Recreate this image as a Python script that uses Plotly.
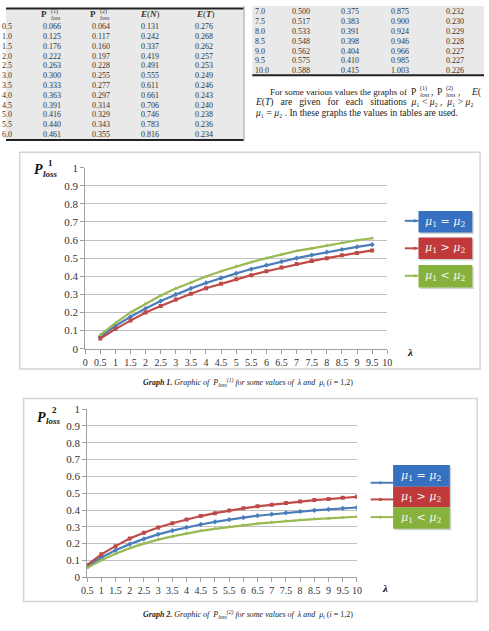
import plotly.graph_objects as go

W, H = 489, 631
def X(px): return px / W
def Y(py): return 1 - py / H

# ---------------- data ----------------
lam_g1 = [0.5, 1, 1.5, 2, 2.5, 3, 3.5, 4, 4.5, 5, 5.5, 6, 6.5, 7, 7.5, 8, 8.5, 9, 9.5]
g1_equal   = [0.066, 0.125, 0.176, 0.222, 0.263, 0.300, 0.333, 0.363, 0.391, 0.416, 0.440, 0.461, 0.481, 0.500, 0.517, 0.533, 0.548, 0.562, 0.575]
g1_greater = [0.056, 0.108, 0.155, 0.200, 0.236, 0.271, 0.303, 0.334, 0.359, 0.383, 0.406, 0.428, 0.448, 0.468, 0.484, 0.500, 0.516, 0.529, 0.543]
g1_less    = [0.076, 0.141, 0.200, 0.249, 0.294, 0.332, 0.366, 0.399, 0.428, 0.455, 0.478, 0.500, 0.520, 0.540, 0.554, 0.570, 0.585, 0.599, 0.610]
g1_ticks = [0, 0.5, 1, 1.5, 2, 2.5, 3, 3.5, 4, 4.5, 5, 5.5, 6, 6.5, 7, 7.5, 8, 8.5, 9, 9.5, 10]

lam_g2 = [0.5, 1, 1.5, 2, 2.5, 3, 3.5, 4, 4.5, 5, 5.5, 6, 6.5, 7, 7.5, 8, 8.5, 9, 9.5, 10]
g2_equal   = [0.064, 0.117, 0.160, 0.197, 0.228, 0.255, 0.277, 0.297, 0.314, 0.329, 0.343, 0.355, 0.366, 0.375, 0.383, 0.391, 0.398, 0.404, 0.410, 0.415]
g2_greater = [0.072, 0.136, 0.185, 0.230, 0.265, 0.296, 0.321, 0.344, 0.364, 0.381, 0.397, 0.410, 0.422, 0.432, 0.442, 0.451, 0.459, 0.465, 0.473, 0.479]
g2_less    = [0.056, 0.101, 0.140, 0.173, 0.200, 0.224, 0.243, 0.261, 0.276, 0.288, 0.300, 0.309, 0.319, 0.327, 0.335, 0.340, 0.346, 0.350, 0.356, 0.360]
g2_ticks = lam_g2

y_ticks = [0, 0.1, 0.2, 0.3, 0.4, 0.5, 0.6, 0.7, 0.8, 0.9, 1]

# tables
tabL_lam = ["0.5", "1.0", "1.5", "2.0", "2.5", "3.0", "3.5", "4.0", "4.5", "5.0", "5.5", "6.0"]
tabL_p1 = ["0.066", "0.125", "0.176", "0.222", "0.263", "0.300", "0.333", "0.363", "0.391", "0.416", "0.440", "0.461"]
tabL_p2 = ["0.064", "0.117", "0.160", "0.197", "0.228", "0.255", "0.277", "0.297", "0.314", "0.329", "0.343", "0.355"]
tabL_en = ["0.131", "0.242", "0.337", "0.419", "0.491", "0.555", "0.611", "0.661", "0.706", "0.746", "0.783", "0.816"]
tabL_et = ["0.276", "0.268", "0.262", "0.257", "0.253", "0.249", "0.246", "0.243", "0.240", "0.238", "0.236", "0.234"]

tabR_lam = ["7.0", "7.5", "8.0", "8.5", "9.0", "9.5", "10.0"]
tabR_p1 = ["0.500", "0.517", "0.533", "0.548", "0.562", "0.575", "0.588"]
tabR_p2 = ["0.375", "0.383", "0.391", "0.398", "0.404", "0.410", "0.415"]
tabR_en = ["0.875", "0.900", "0.924", "0.946", "0.966", "0.985", "1.003"]
tabR_et = ["0.232", "0.230", "0.229", "0.228", "0.227", "0.227", "0.226"]

series_names = ["μ1 = μ2", "μ1 > μ2", "μ1 < μ2"]
legend_labels = ["<i>μ</i><sub>1</sub> = <i>μ</i><sub>2</sub>",
                 "<i>μ</i><sub>1</sub> > <i>μ</i><sub>2</sub>",
                 "<i>μ</i><sub>1</sub> < <i>μ</i><sub>2</sub>"]

line_colors = ["#4a7ebb", "#be4b48", "#98b954"]
box_colors = ["#3571c0", "#c0393b", "#86b23c"]
markers = ["diamond", "square", "triangle-up"]

SERIF = "Liberation Serif"

fig = go.Figure()

for ys, name, col, mk in zip([g1_equal, g1_greater, g1_less], series_names, line_colors, markers):
    fig.add_trace(go.Scatter(x=lam_g1, y=ys, name=name, mode="lines+markers",
                             line=dict(color=col, width=2.2), marker=dict(symbol=mk, size=4, color=col),
                             xaxis="x", yaxis="y", showlegend=False))
for ys, name, col, mk in zip([g2_equal, g2_greater, g2_less], series_names, line_colors, markers):
    fig.add_trace(go.Scatter(x=lam_g2, y=ys, name=name, mode="lines+markers",
                             line=dict(color=col, width=2.2), marker=dict(symbol=mk, size=4, color=col),
                             xaxis="x2", yaxis="y2", showlegend=False))

def fmt(v):
    return ("%g" % v)

axis_common = dict(showline=True, linecolor="#a0a0a0", linewidth=1, ticks="outside", ticklen=4,
                   tickcolor="#a0a0a0", zeroline=False)
xfont = dict(family=SERIF, size=10, color="#333333")
yfont = dict(family=SERIF, size=11, color="#333333")

shapes = []
ann = []

# ---- tables ----
shapes.append(dict(type="rect", xref="paper", yref="paper", x0=X(0), x1=X(243), y0=Y(136), y1=Y(2),
                   fillcolor="#e9e9e9", line=dict(width=0), layer="below"))
shapes.append(dict(type="line", xref="paper", yref="paper", x0=X(0), x1=X(243), y0=Y(2.5), y1=Y(2.5),
                   line=dict(color="#222222", width=2)))
shapes.append(dict(type="line", xref="paper", yref="paper", x0=X(0), x1=X(243), y0=Y(136.5), y1=Y(136.5),
                   line=dict(color="#222222", width=2)))
shapes.append(dict(type="line", xref="paper", yref="paper", x0=X(243.5), x1=X(243.5), y0=Y(138), y1=Y(0),
                   line=dict(color="#9a9a9a", width=1)))
shapes.append(dict(type="rect", xref="paper", yref="paper", x0=X(252), x1=X(489), y0=Y(70), y1=Y(0),
                   fillcolor="#e9e9e9", line=dict(width=0), layer="below"))
shapes.append(dict(type="line", xref="paper", yref="paper", x0=X(252), x1=X(489), y0=Y(70.5), y1=Y(70.5),
                   line=dict(color="#222222", width=2)))

def txt(x, y, s, size=8, anchor="center", color="#333333", family=SERIF):
    ann.append(dict(xref="paper", yref="paper", x=X(x), y=Y(y), text=s, showarrow=False,
                    xanchor=anchor, yanchor="middle", font=dict(family=family, size=size, color=color)))

def stacked_P(x, y, sup, sub, size_main, size_small, color="#333333", bold=True, italic_sub=True):
    p = "<b>P</b>" if bold else "P"
    txt(x, y, p, size=size_main, anchor="right", color=color)
    txt(x + 0.5, y - size_main * 0.37, sup, size=size_small, anchor="left", color=color)
    s = "<i>%s</i>" % sub if italic_sub else sub
    txt(x + 0.5, y + size_main * 0.37, s, size=size_small, anchor="left", color=color)

# left table header (stacked sup/sub)
stacked_P(44, 8.5, "(1)", "loss", 9, 6)
stacked_P(94, 8.5, "(2)", "loss", 9, 6)
txt(147, 8.5, "<i><b>E</b></i>(<i><b>N</b></i>)", size=9)
txt(204, 8.5, "<i><b>E</b></i>(<i><b>T</b></i>)", size=9)

for i in range(len(tabL_lam)):
    yy = 21 + 10 * i
    txt(8.5, yy, tabL_lam[i], anchor="right")
    txt(47, yy, tabL_p1[i])
    txt(97, yy, tabL_p2[i])
    txt(147, yy, tabL_en[i])
    txt(203, yy, tabL_et[i])

for i in range(len(tabR_lam)):
    yy = 6 + 10 * i
    txt(253, yy, tabR_lam[i], anchor="left")
    txt(302, yy, tabR_p1[i])
    txt(352, yy, tabR_p2[i])
    txt(403, yy, tabR_en[i])
    txt(459, yy, tabR_et[i])

# paragraph
pf = 9.5
pc = "#222222"
txt(268, 87.5, "For some various values the graphs of", size=9, anchor="left", color=pc)
stacked_P(421, 87.5, "(1)", "loss", pf, 6, color=pc, bold=False)
txt(433, 88, ",", size=pf, anchor="left", color=pc)
stacked_P(448, 87.5, "(2)", "loss", pf, 6, color=pc, bold=False)
txt(460, 88, ",", size=pf, anchor="left", color=pc)
txt(474, 88, "<i>E</i>(", size=pf, anchor="left", color=pc)
txt(253, 98.5, "<i>E</i>(<i>T</i>)   are   given   for   each   situations  <i>μ</i>₁ < <i>μ</i>₂ ,  <i>μ</i>₁ > <i>μ</i>₂", size=pf, anchor="left", color=pc)
txt(253, 109.5, "<i>μ</i>₁ = <i>μ</i>₂ . In these graphs the values in tables are used.", size=pf, anchor="left", color=pc)

# ---- chart frames ----
shapes.append(dict(type="rect", xref="paper", yref="paper", x0=X(14), x1=X(485), y0=Y(370), y1=Y(149),
                   line=dict(color="#d4d4d4", width=1.5), layer="below"))
shapes.append(dict(type="rect", xref="paper", yref="paper", x0=X(18), x1=X(482), y0=Y(607), y1=Y(400),
                   line=dict(color="#d4d4d4", width=1.5), layer="below"))

# y-axis titles
txt(33, 167, "<b><i>P</i></b>", size=14, color="#111111")
txt(45.5, 171, "<b><i>loss</i></b>", size=9, color="#111111")
txt(46, 160, "<b>1</b>", size=9, color="#111111")
txt(36, 419, "<b><i>P</i></b>", size=14, color="#111111")
txt(48.5, 423, "<b><i>loss</i></b>", size=9, color="#111111")
txt(50, 412, "<b>2</b>", size=9, color="#111111")
# lambda labels
txt(413, 353, "<b><i>λ</i></b>", size=11, color="#111111")
txt(388, 593, "<b><i>λ</i></b>", size=11, color="#111111")

# captions
txt(248, 384, "<b><i>Graph 1.</i></b><i> Graphic of  P<sub>loss</sub><sup>(1)</sup> for some values of  λ and  μ<sub>i</sub></i> (<i>i</i> = 1,2)", size=8, color="#222222")
txt(248, 620, "<b><i>Graph 2.</i></b><i> Graphic of  P<sub>loss</sub><sup>(2)</sup> for some values of  λ and  μ<sub>i</sub></i> (<i>i</i> = 1,2)", size=8, color="#222222")

# ---- legends ----
def legend_item(bx0, bx1, by0, by1, ly, lx0, lmk, color, bcol, label):
    shapes.append(dict(type="rect", xref="paper", yref="paper", x0=X(bx0 + 1.5), x1=X(bx1 + 1.5), y0=Y(by1 + 1.5), y1=Y(by0 + 1.5),
                       fillcolor="rgba(0,0,0,0.18)", line=dict(width=0)))
    shapes.append(dict(type="rect", xref="paper", yref="paper", x0=X(bx0), x1=X(bx1), y0=Y(by1), y1=Y(by0),
                       fillcolor=bcol, line=dict(width=0)))
    shapes.append(dict(type="line", xref="paper", yref="paper", x0=X(lx0), x1=X(bx0), y0=Y(ly), y1=Y(ly),
                       line=dict(color=color, width=2)))
    shapes.append(dict(type="circle", xref="paper", yref="paper", x0=X(lmk - 1.6), x1=X(lmk + 1.6), y0=Y(ly + 1.6), y1=Y(ly - 1.6),
                       fillcolor=color, line=dict(width=0)))
    txt((bx0 + bx1) / 2, (by0 + by1) / 2, label, size=11, color="#f4f4f4", family="DejaVu Serif")

leg1 = [(209, 231, 219), (236, 258, 247), (264, 287, 275)]
for (b0, b1, ly), col, bcol, lab in zip(leg1, line_colors, box_colors, legend_labels):
    legend_item(422, 477, b0, b1, ly, 408, 418, col, bcol, lab)

leg2 = [(468, 490, 486), (490, 511, 503), (511, 533, 521)]
for (b0, b1, ly), col, bcol, lab in zip(leg2, line_colors, box_colors, legend_labels):
    legend_item(396, 454, b0, b1, ly, 373, 383, col, bcol, lab)

fig.update_layout(
    width=W, height=H, autosize=False,
    margin=dict(l=0, r=0, t=0, b=0),
    paper_bgcolor="white", plot_bgcolor="white",
    showlegend=False,
    xaxis=dict(domain=[X(81), X(390)], range=[0, 10], tickmode="array", tickvals=g1_ticks,
               ticktext=[fmt(v) for v in g1_ticks], anchor="y", showgrid=False, tickfont=xfont, **axis_common),
    yaxis=dict(domain=[Y(349.3), Y(164.8)], range=[0, 1], tickmode="array", tickvals=y_ticks,
               ticktext=[fmt(v) for v in y_ticks], anchor="x", showgrid=True, gridcolor="#c0c0c0",
               gridwidth=1, tickfont=yfont, **axis_common),
    xaxis2=dict(domain=[X(83), X(359)], range=[0.5, 10], tickmode="array", tickvals=g2_ticks,
                ticktext=[fmt(v) for v in g2_ticks], anchor="y2", showgrid=False, tickfont=xfont, **axis_common),
    yaxis2=dict(domain=[Y(582.3), Y(411)], range=[0, 1], tickmode="array", tickvals=y_ticks,
                ticktext=[fmt(v) for v in y_ticks], anchor="x2", showgrid=True, gridcolor="#c0c0c0",
                gridwidth=1, tickfont=yfont, **axis_common),
    shapes=shapes,
    annotations=ann,
)

fig.write_html("out.html")
